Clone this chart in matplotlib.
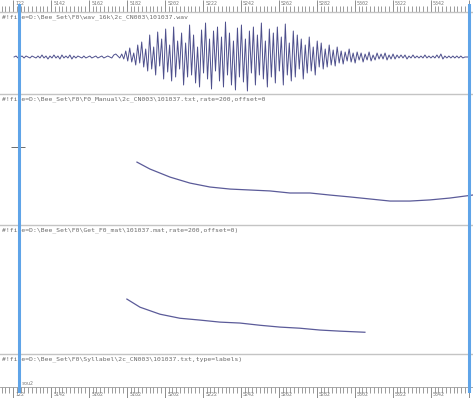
import numpy as np
import matplotlib
matplotlib.use("Agg")
import matplotlib.pyplot as plt
from matplotlib.ticker import MultipleLocator

# %% data
x_range = (5115.2, 5364.2)
ruler_ticks = [5122, 5142, 5162, 5182, 5202, 5222, 5242, 5262, 5282, 5302, 5322, 5342, 5362]
ruler_labels = ["122", "5142", "5162", "5182", "5202", "5222", "5242", "5262",
                "5282", "5302", "5322", "5342", ""]
cursors = [5125.2, 5362.0]

headers = [
    r"#!file=D:\Bee_Set\F0\wav_16k\2c_CN003\101037.wav",
    r"#!file=D:\Bee_Set\F0\F0_Manual\2c_CN003\101037.txt,rate=200,offset=0",
    r"#!file=D:\Bee_Set\F0\Get_F0_mat\101037.mat,rate=200,offset=0)",
    r"#!file=D:\Bee_Set\F0\Syllabel\2c_CN003\101037.txt,type=labels)",
]
label_text = "sou2"

# waveform samples (one every 1.05 units from t0)
wave_t0 = 5122.6
wave_dt = 1.05
wave = [
    # quiet lead-in
    0, 1, -1, 0, 1, -1, 1, 0, -1, 1, 0, -1, 1, -1, 2, -1, 1, -2, 1, -1,
    2, -1, 1, -2, 2, -1, 1, -1, 2, -2, 1, -1, 1, 0, -1, 1, -1, 0, 1, -1,
    0, 1, -1, 0, 1, -1, 0, 1, 0, -1, 2, 3, 1, -1,
    # burst
    3, -2, 6, -4, 9, -5, 4, -8, 12, -6,
    15, -10, 8, -14, 22, -12, 10, -18, 25, -9,
    18, -22, 28, -15, 12, -24, 30, -20, 16, -12,
    24, -28, 14, -20, 32, -18, 22, -26, 10, -30,
    27, -16, 34, -22, 18, -32, 26, -14, 30, -24,
    20, -30, 35, -18, 24, -28, 16, -33, 29, -20,
    32, -25, 18, -34, 26, -16, 30, -28, 22, -18,
    34, -22, 16, -30, 28, -20, 24, -26, 30, -14,
    20, -28, 33, -18, 14, -24, 26, -20, 22, -12,
    18, -22, 12, -16, 20, -14, 10, -18, 16, -10,
    14, -12, 8, -10, 12, -8, 7, -9, 10, -6,
    6, -7, 5, -4, 8, -5, 4, -6, 5, -3,
    4, -5, 3, -3, 5, -4, 2, -3, 4, -2,
    3, -2, 4, -3, 2, -2, 3, -2, 2, -1,
    2, -1, 2, -2, 1, -1, 2, -1, 1, -1,
    1, -1, 2, -1, 1, -1, 1, -1, 2, -1,
    3, -2, 1, -1, 1, -1, 1, -1, 1, -1, 1, -1, 0, 0, 0,
]

f0_manual_t = [5187.3, 5194.1, 5204.7, 5215.2, 5225.7, 5236.3, 5246.8, 5257.3, 5267.8,
               5278.4, 5288.9, 5299.4, 5310.0, 5320.5, 5331.0, 5341.5, 5352.0, 5364.0]
f0_manual = [218, 199.6, 178, 162, 151.5, 146, 143.5, 141, 135.5,
             135.5, 130, 125, 119.5, 114, 114, 117, 122, 130]

f0_mat_t = [5182.0, 5188.9, 5199.4, 5209.9, 5220.5, 5231.0, 5241.5, 5252.0, 5262.6,
            5273.0, 5283.6, 5294.2, 5307.3]
f0_mat = [199, 177, 158, 147, 142, 136.5, 134, 128, 123, 120, 115, 112, 109]

# %% layout (pixel rows of the figure)
W, H = 473, 398
rows = {"ruler_top": (0, 12), "wave": (12, 94), "f0a": (94, 225),
        "f0b": (225, 354), "lab": (354, 387), "ruler_bot": (387, 398)}

fig = plt.figure(figsize=(W / 100, H / 100), dpi=100)
fig.patch.set_facecolor("white")


def panel(name):
    y0, y1 = rows[name]
    ax = fig.add_axes([0, 1 - y1 / H, 1, (y1 - y0) / H])
    ax.set_xlim(*x_range)
    for s in ax.spines.values():
        s.set_visible(False)
    ax.set_xticks([])
    ax.set_yticks([])
    ax.patch.set_alpha(0)
    return ax


mono = "DejaVu Sans Mono"
txt_col = "#6a6a6a"


def ruler(name, top):
    ax = panel(name)
    ax.set_ylim(0, 1)
    ax.set_xticks(ruler_ticks)
    ax.xaxis.set_minor_locator(MultipleLocator(2))
    ax.xaxis.set_ticks_position("bottom" if top else "top")
    ax.tick_params(axis="x", which="major", direction="in", length=9, width=0.6,
                   color="#7a7a7a", labelbottom=False, labeltop=False)
    ax.tick_params(axis="x", which="minor", direction="in", length=4, width=0.6,
                   color="#8a8a8a")
    side = "bottom" if top else "top"
    ax.spines[side].set_visible(True)
    ax.spines[side].set_color("#9a9a9a")
    ax.spines[side].set_linewidth(0.6)
    for t, lab in zip(ruler_ticks, ruler_labels):
        ax.text(t + 1.2, 0.72 if top else 0.28, lab, fontsize=3.6, family=mono,
                color="#7a7a7a", va="center", ha="left")


ruler("ruler_top", True)
ruler("ruler_bot", False)

# waveform
axw = panel("wave")
wave_time = wave_t0 + wave_dt * np.arange(len(wave))
axw.plot(wave_time, wave, color="#3a3c80", lw=0.7, alpha=0.9)
axw.set_ylim(-37, 45)

# F0 panels
axa = panel("f0a")
axa.plot(f0_manual_t, f0_manual, color="#5b5b99", lw=0.9)
axa.set_ylim(50, 400)
axa.spines["left"].set_position(("data", 5124.5))
axa.set_yticks([258])
axa.set_yticklabels([])
axa.tick_params(axis="y", direction="inout", length=10, width=0.6, color="#555555")

axb = panel("f0b")
axb.plot(f0_mat_t, f0_mat, color="#5b5b99", lw=0.9)
axb.set_ylim(50, 400)

axl = panel("lab")
axl.set_ylim(0, 1)

# separators and header lines
for ax in [axw, axa, axb, axl]:
    ax.spines["top"].set_visible(True)
    ax.spines["top"].set_color("#c4c4c4")
    ax.spines["top"].set_linewidth(1.0)

for ax, head, name in zip([axw, axa, axb, axl], headers, ["wave", "f0a", "f0b", "lab"]):
    y0, y1 = rows[name]
    ax.text(2 / W, 1 - 5 / (y1 - y0), head, transform=ax.transAxes, fontsize=4.6,
            family=mono, color=txt_col, va="center", ha="left")

axl.text(cursors[0] + 1.5, 0.1, label_text, fontsize=3.6, family=mono,
         color="#7a7a7a", va="center", ha="left")

# cursor lines across everything
axc = fig.add_axes([0, 0.012, 1, 0.978])
axc.set_xlim(*x_range)
axc.axis("off")
for c in cursors:
    axc.axvline(c, color="#5fa4e8", lw=2.2)

fig.savefig("out.png", dpi=100, facecolor="white")
